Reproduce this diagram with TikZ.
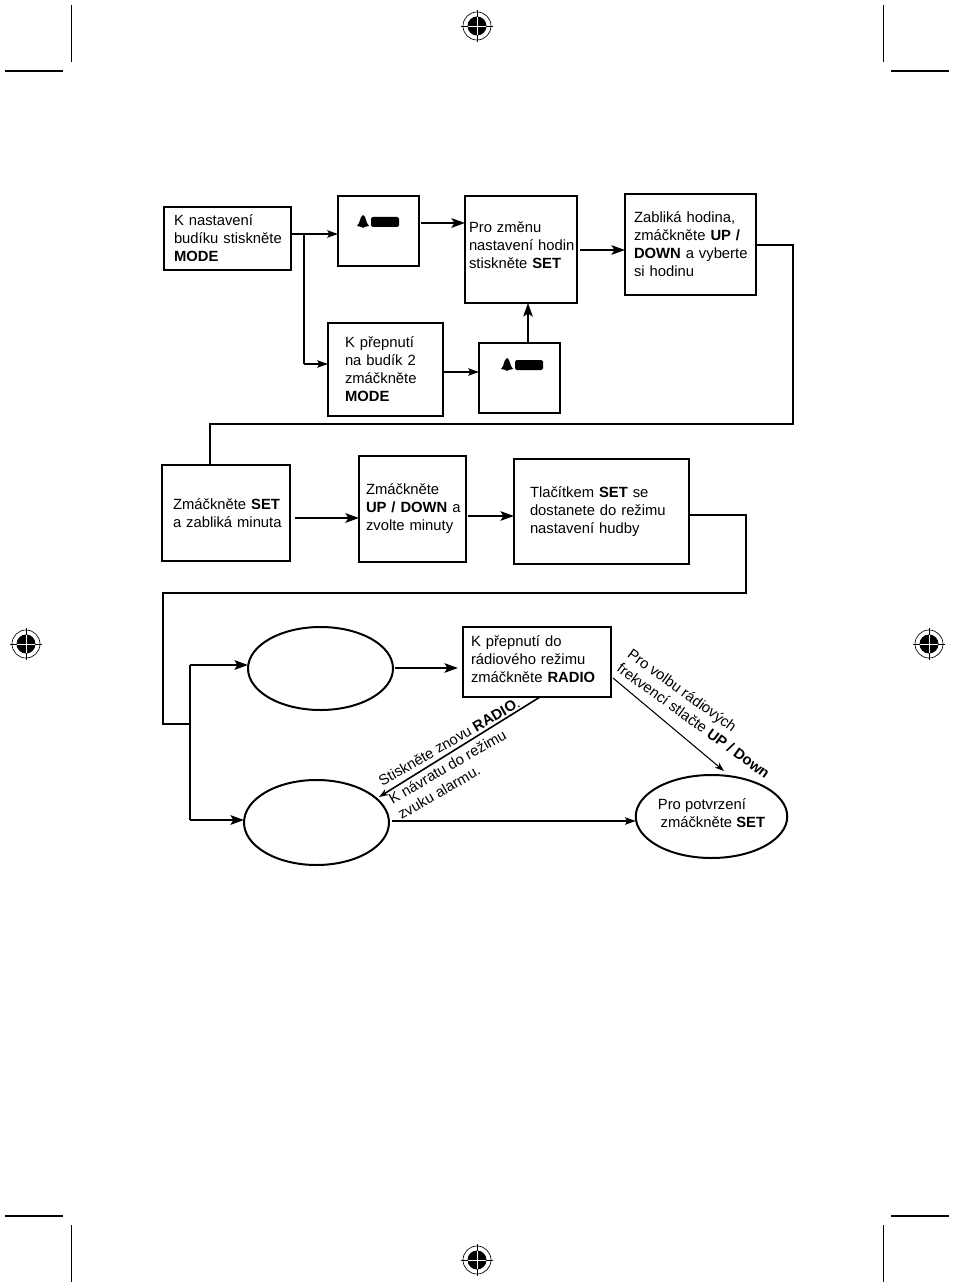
\documentclass[tikz,border=0pt]{standalone}
\usepackage{fontspec}
\setmainfont{Liberation Sans}
\usetikzlibrary{shapes.geometric,arrows.meta}

\tikzset{
    boxnode/.style n args={3}{draw, line width=1.7pt, rectangle, outer sep=0pt, align=left,
        minimum width=#1*0.75pt, minimum height=#2*0.75pt,
        inner xsep=#3*0.75pt, inner ysep=0pt, text width=(#1-2*#3)*0.75pt},
    ellnode/.style 2 args={draw, line width=1.5pt, ellipse, outer sep=0pt, inner sep=0pt, align=left,
        minimum width=#1*0.75pt, minimum height=#2*0.75pt},
    heavyline/.style={line width=1.8pt},
    thickarrow/.style={line width=1.9pt, -{Stealth[length=10pt,width=7pt,inset=2pt]}},
    smallarrow/.style={line width=1.3pt, -{Stealth[length=8pt,width=5.5pt,inset=1.5pt]}},
    thinarrow/.style={line width=0.8pt, -{Stealth[length=7pt,width=5pt]}},
    sidelabel/.style={inner sep=0pt, outer sep=0pt, align=left, anchor=north west},
    cropline/.style={line width=0.8pt}
}

\newcommand{\bellicon}[2]{
    \fill [shift={(#1,#2)}] (6,0) -- (8,2) -- (10,8) -- (12,11) -- (7.5,12) -- (6,13)
        -- (4.5,12) -- (0,11) -- (2,8) -- (4,2) -- cycle;
    \fill [shift={(#1,#2)}, rounded corners=1.2pt] (14,2) rectangle (42,12);
}
\newcommand{\regmark}[2]{
    \draw [line width=0.5pt] (#1,#2) circle (14);
    \fill (#1,#2) circle (9.5);
    \draw [line width=0.7pt] (#1-16,#2) -- (#1+16,#2) (#1,#2-16) -- (#1,#2+16);
    \draw [white, line width=0.7pt] (#1-9,#2) -- (#1+9,#2) (#1,#2-9) -- (#1,#2+9);
}

\begin{document}
\begin{tikzpicture}[x=0.75pt, y=-0.75pt, font=\fontsize{11.1}{13.5}\selectfont]
    \useasboundingbox (0,0) rectangle (954,1287);

    % crop marks
    \draw [cropline] (71.5,5) -- (71.5,62) (5,71) -- (63,71);
    \draw [cropline] (883.5,5) -- (883.5,62) (891,71) -- (949,71);
    \draw [cropline] (71.5,1225) -- (71.5,1282) (5,1216) -- (63,1216);
    \draw [cropline] (883.5,1225) -- (883.5,1282) (891,1216) -- (949,1216);
    \regmark{477}{26}
    \regmark{26}{644}
    \regmark{929}{644}
    \regmark{477}{1260}

    % first row
    \node [boxnode={127}{63}{10}] (setalarm) at (227.5,238.5) {K nastavení\\\mbox{budíku stiskněte}\\\textbf{MODE}};
    \node [boxnode={81}{70}{5}] (display1) at (378.5,231) {};
    \node [boxnode={112}{107}{4}, line width=2pt] (changehour) at (521,249.5) {Pro změnu\\\mbox{nastavení hodin}\\stiskněte \textbf{SET}\\[-6.75pt]\mbox{}};
    \node [boxnode={131}{101}{9}] (hourblink) at (690.5,244.5) {Zabliká hodina,\\zmáčkněte \textbf{UP /}\\\mbox{\textbf{DOWN} a vyberte}\\si hodinu};
    \node [boxnode={115}{93}{17}] (alarmtwo) at (385.5,369.5) {K přepnutí\\na budík 2\\zmáčkněte\\\textbf{MODE}};
    \node [boxnode={81}{70}{5}] (display2) at (519.5,378) {};
    \bellicon{357}{215}
    \bellicon{501}{358}

    % second row
    \node [boxnode={128}{96}{11}] (setminute) at (226,513) {\mbox{Zmáčkněte \textbf{SET}}\\\mbox{a zabliká minuta}};
    \node [boxnode={107}{106}{7}, line width=2.2pt] (pickminute) at (412.5,509) {Zmáčkněte\\\mbox{\textbf{UP / DOWN} a}\\zvolte minuty};
    \node [boxnode={175}{105}{16}] (musicmode) at (601.5,511.5) {Tlačítkem \textbf{SET} se\\dostanete do režimu\\nastavení hudby\\[-11.25pt]\mbox{}};

    % third row
    \node [ellnode={145}{83}] (ellradio) at (320.5,668.5) {};
    \node [ellnode={145}{85}] (ellbuzzer) at (316.5,822.5) {};
    \node [ellnode={151}{83}] (ellconfirm) at (711.5,816.5) {Pro potvrzení\\\hspace*{2pt}zmáčkněte \textbf{SET}\\[-9pt]\mbox{}};
    \node [boxnode={148}{70}{8}] (radiomode) at (537,662) {K přepnutí do\\rádiového režimu\\\mbox{zmáčkněte \textbf{RADIO}}\\[-9pt]\mbox{}};

    % helper points of the connectors
    \coordinate (branch) at (304,234);
    \coordinate (toalarm) at (304,364);
    \coordinate (disp1out) at (421,223);
    \coordinate (disp2in) at (479,372);
    \coordinate (disp2top) at (528,343);
    \coordinate (hourout) at (580,250);
    \coordinate (wrapa) at (793,245);
    \coordinate (wrapb) at (793,424);
    \coordinate (wrapc) at (210,424);
    \coordinate (minout) at (295,518);
    \coordinate (pickout) at (468,516);
    \coordinate (wrapd) at (746,515);
    \coordinate (wrape) at (746,593);
    \coordinate (wrapf) at (163,593);
    \coordinate (wrapg) at (163,724);
    \coordinate (fork) at (190,724);
    \coordinate (forkup) at (190,665);
    \coordinate (forkdown) at (190,820);
    \coordinate (ellout) at (395,668);
    \coordinate (radioin) at (458,668);
    \coordinate (backstart) at (540,697);
    \coordinate (backend) at (379,797);
    \coordinate (tunestart) at (613,678);
    \coordinate (tuneend) at (724,771);
    \coordinate (confstart) at (392,821);

    % connectors
    \draw [smallarrow] (setalarm.east |- branch) -- (display1.west |- branch);
    \draw [heavyline] (branch) -- (toalarm);
    \draw [smallarrow] (toalarm) -- (alarmtwo.west |- toalarm);
    \draw [thickarrow] (disp1out) -- (changehour.west |- disp1out);
    \draw [smallarrow] (alarmtwo.east |- disp2in) -- (disp2in);
    \draw [thickarrow] (disp2top) -- (disp2top |- changehour.south);
    \draw [thickarrow] (hourout) -- (hourblink.west |- hourout);
    \draw [heavyline] (hourblink.east |- wrapa) -- (wrapa) -- (wrapb) -- (wrapc) -- (wrapc |- setminute.north);
    \draw [thickarrow] (minout) -- (pickminute.west |- minout);
    \draw [thickarrow] (pickout) -- (musicmode.west |- pickout);
    \draw [heavyline] (musicmode.east |- wrapd) -- (wrapd) -- (wrape) -- (wrapf) -- (wrapg) -- (fork);
    \draw [heavyline] (forkup) -- (forkdown);
    \draw [thickarrow] (forkup) -- (ellradio.west |- forkup);
    \draw [thickarrow] (forkdown) -- (ellbuzzer.west |- forkdown);
    \draw [thickarrow] (ellout) -- (radioin);
    \draw [thinarrow, line width=1.2pt] (backstart) -- (backend);
    \draw [thinarrow] (tunestart) -- (tuneend);
    \draw [smallarrow] (confstart) -- (ellconfirm.west |- confstart);

    % slanted texts
    \node [sidelabel, rotate=30] (backtext) at (377,777) {Stiskněte znovu \textbf{RADIO}.\\[2pt]K návratu do režimu\\zvuku alarmu.};
    \node [sidelabel, rotate=-36] (tunetext) at (633,647.5) {Pro volbu rádiových\\frekvencí stlačte \textbf{UP / Down}};
\end{tikzpicture}
\end{document}
